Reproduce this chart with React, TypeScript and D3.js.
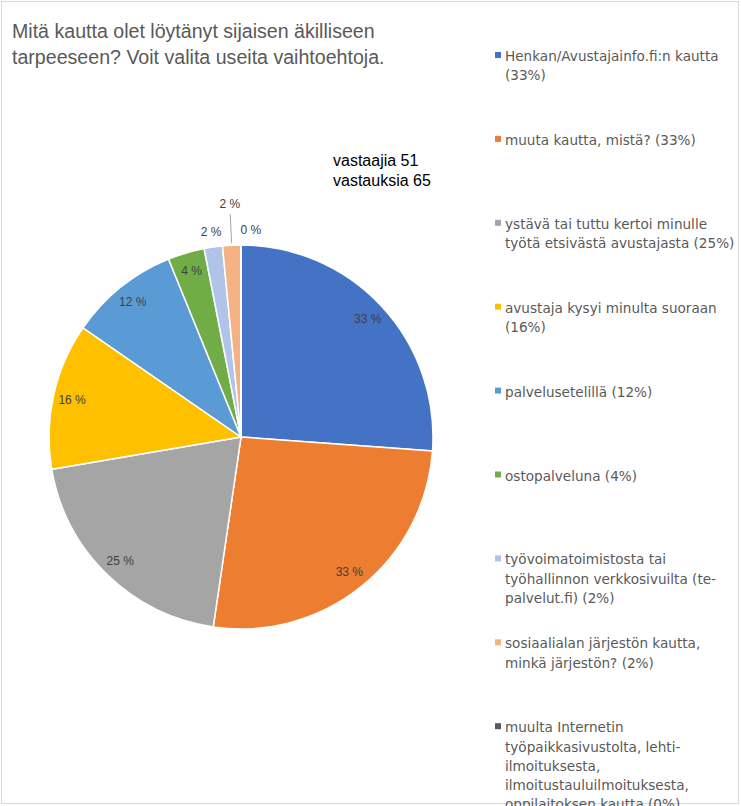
import React, { useEffect } from 'react';
import * as d3 from 'd3';

// survey question and answers
const titleLines = [
  'Mitä kautta olet löytänyt sijaisen äkilliseen',
  'tarpeeseen? Voit valita useita vaihtoehtoja.',
];

const categories = [
  'Henkan/Avustajainfo.fi:n kautta',
  'muuta kautta, mistä?',
  'ystävä tai tuttu kertoi minulle\ntyötä etsivästä avustajasta',
  'avustaja kysyi minulta suoraan',
  'palvelusetelillä',
  'ostopalveluna',
  'työvoimatoimistosta tai\ntyöhallinnon verkkosivuilta (te-\npalvelut.fi)',
  'sosiaalialan järjestön kautta,\nminkä järjestön?',
  'muulta Internetin\ntyöpaikkasivustolta, lehti-\nilmoituksesta,\nilmoitustauluilmoituksesta,\noppilaitoksen kautta',
];

const answerCounts = [17, 17, 13, 8, 6, 2, 1, 1, 0];
const respondents = 51;
const totalAnswers = 65;

const sliceColors = [
  '#4472C4', '#ED7D31', '#A5A5A5', '#FFC000', '#5B9BD5',
  '#70AD47', '#B0C4E8', '#F4B183', '#595959',
];

type Item = { name: string; count: number; pct: number; color: string };

export default function App() {
  useEffect(() => {
    document.body.style.margin = '0';
  }, []);

  const width = 741;
  const height = 806;
  const cx = 241;
  const cy = 437;
  const radius = 192;

  const items: Item[] = categories.map((name, i) => ({
    name,
    count: answerCounts[i],
    pct: Math.round((answerCounts[i] / respondents) * 100),
    color: sliceColors[i],
  }));

  const pie = d3.pie<Item>().sort(null).value(d => d.count);
  const arcs = pie(items);
  const arc = d3.arc<d3.PieArcDatum<Item>>().innerRadius(0).outerRadius(radius);
  const labelArc = d3.arc<d3.PieArcDatum<Item>>().innerRadius(173).outerRadius(173);

  // place labels: big slices inside, small ones outside, raised when crowded
  const polar = (a: number, r: number) => [Math.sin(a) * r, -Math.cos(a) * r];
  let prevX: number | null = null;
  let prevRaised = false;
  const labels = arcs.map(d => {
    const text = d.data.pct + ' %';
    const mid = (d.startAngle + d.endAngle) / 2;
    if (d.data.pct >= 3) {
      const [x, y] = labelArc.centroid(d);
      return { text, x, y, leader: null as null | number[] };
    }
    let [x, y] = polar(mid, 207);
    let leader: null | number[] = null;
    let raised = false;
    if (prevX !== null && Math.abs(x - prevX) < 28) {
      if (!prevRaised) {
        [x, y] = polar(mid, 233);
        const [x1, y1] = polar(mid, 194);
        const [x2, y2] = polar(mid, 223);
        leader = [x1, y1, x2, y2];
        raised = true;
      } else {
        x = prevX + 21;
      }
    }
    prevX = x;
    prevRaised = raised;
    return { text, x, y, leader };
  });

  const legendX = 495;
  const legendTop = 61;
  const legendStep = 83.9;
  const lineH = 19.3;

  return (
    <svg width={width} height={height} style={{ display: 'block' }}>
      <rect x={0} y={0} width={width} height={height} fill="#fff" />
      <rect x={1.5} y={1.5} width={737} height={802} fill="none" stroke="#D9D9D9" />

      <g fontFamily="'Liberation Sans', Arial, sans-serif" fontSize={19.6} fill="#595959">
        {titleLines.map((t, i) => (
          <text key={i} x={12} y={38 + i * 25.5}>{t}</text>
        ))}
      </g>

      <g fontFamily="'Liberation Sans', Arial, sans-serif" fontSize={16} fill="#000">
        <text x={333} y={166}>vastaajia {respondents}</text>
        <text x={333} y={186}>vastauksia {totalAnswers}</text>
      </g>

      <g transform={`translate(${cx},${cy})`}>
        {arcs.map((d, i) => (
          <path key={i} d={arc(d) || ''} fill={d.data.color} stroke="#fff" strokeWidth={1.5} />
        ))}
        <g fontFamily="'Liberation Sans', Arial, sans-serif" fontSize={12} fill="#404040" textAnchor="middle">
          {labels.map((l, i) => (
            <g key={i}>
              {l.leader && (
                <line x1={l.leader[0]} y1={l.leader[1]} x2={l.leader[2]} y2={l.leader[3]}
                  stroke="#A6A6A6" strokeWidth={1} />
              )}
              <text x={l.x} y={l.y} dy="0.35em">{l.text}</text>
            </g>
          ))}
        </g>
      </g>

      <g fontFamily="'DejaVu Sans', Verdana, sans-serif" fontSize={13.6} fill="#595959">
        {items.map((d, i) => {
          const y0 = legendTop + i * legendStep;
          const lines = (d.name + ' (' + d.pct + '%)').split('\n');
          // wrap "(xx%)" onto its own line when the first line would run too long
          const out: string[] = [];
          lines.forEach((ln, j) => {
            if (j === lines.length - 1 && lines.length === 1 && ln.length > 30) {
              const k = ln.lastIndexOf(' (');
              out.push(ln.slice(0, k), ln.slice(k + 1));
            } else out.push(ln);
          });
          return (
            <g key={i}>
              <rect x={legendX} y={y0 - 9} width={6} height={6} fill={d.color} />
              {out.map((ln, j) => (
                <text key={j} x={legendX + 10} y={y0 + j * lineH}>{ln}</text>
              ))}
            </g>
          );
        })}
      </g>
    </svg>
  );
}
